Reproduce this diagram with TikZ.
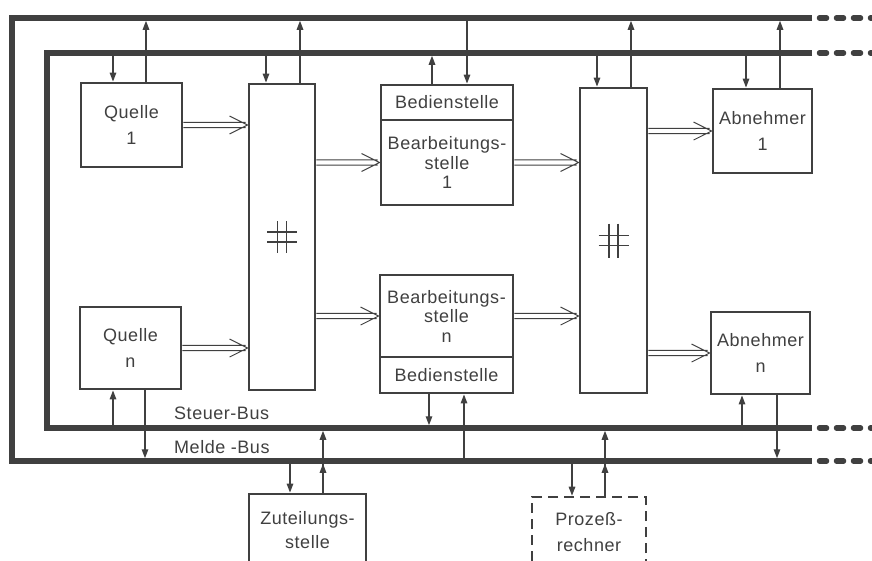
\documentclass[tikz,border=0pt]{standalone}
\usepackage{fontspec}
\setmainfont{Liberation Sans}[LetterSpace=3]
\usetikzlibrary{arrows.meta,calc}
\definecolor{ink}{gray}{0.25}
\begin{document}
\begin{tikzpicture}[x=1pt,y=-1pt,
  box/.style={draw=ink, line width=2.8pt, inner sep=0pt, align=center, text=ink,
     font=\fontsize{18}{19.5}\selectfont},
  dbox/.style={box, dash pattern=on 10pt off 6pt, line width=2.6pt},
  bus/.style={draw=ink, line width=5.5pt},
  busdash/.style={draw=ink, line width=5.5pt, line cap=round, dash pattern=on 7pt off 10pt},
  sig/.style={draw=ink, line width=1.4pt, -{Triangle[length=9pt,width=6.5pt]}},
  dbl/.style={draw=ink, line width=1pt, to path={
     ($(\tikztostart)+(0,2.7)$) -- ($(\tikztotarget)+(-2,2.7)$)
     ($(\tikztostart)+(0,-2.7)$) -- ($(\tikztotarget)+(-2,-2.7)$)
     ($(\tikztotarget)+(-18,9)$) -- (\tikztotarget) -- ($(\tikztotarget)+(-18,-9)$)}},
  lbl/.style={text=ink, font=\fontsize{18}{19.5}\selectfont, inner sep=0pt, anchor=base west},
  hash/.style={draw=ink, line width=1.7pt}
]
\useasboundingbox (0,0) rectangle (872,560);
\clip (0,0) rectangle (872,560);

% bus reference coordinates
\coordinate (busMT) at (0,18);
\coordinate (busST) at (0,53);
\coordinate (busSB) at (0,428);
\coordinate (busMB) at (0,461);
\coordinate (mtl) at (12,18);   \coordinate (mtr) at (812,18);  \coordinate (mte) at (874,18);
\coordinate (mbl) at (12,461);  \coordinate (mbr) at (812,461); \coordinate (mbe) at (874,461);
\coordinate (stl) at (47,53);   \coordinate (str) at (812,53);  \coordinate (ste) at (874,53);
\coordinate (sbl) at (47,428);  \coordinate (sbr) at (812,428); \coordinate (sbe) at (874,428);
\coordinate (mtd) at (819.5,18); \coordinate (mbd) at (819.5,461);
\coordinate (std) at (819.5,53); \coordinate (sbd) at (819.5,428);

% boxes
\node[box, minimum width=101pt, minimum height=84pt] (q1) at (131.5,125) {Quelle\\[6pt]1};
\node[box, minimum width=101pt, minimum height=82pt] (qn) at (130.5,348) {Quelle\\[6pt]n};
\node[box, minimum width=66pt, minimum height=306pt] (sw1) at (282,237) {};
\node[box, minimum width=132pt, minimum height=35pt] (bed1) at (447,102.5) {Bedienstelle};
\node[box, minimum width=132pt, minimum height=85pt] (bea1) at (447,162.5) {Bearbeitungs-\\stelle\\1};
\node[box, minimum width=133pt, minimum height=82pt] (bean) at (446.5,316) {Bearbeitungs-\\stelle\\n};
\node[box, minimum width=133pt, minimum height=36pt] (bedn) at (446.5,375) {Bedienstelle};
\node[box, minimum width=67pt, minimum height=305pt] (sw2) at (613.5,240.5) {};
\node[box, minimum width=99pt, minimum height=84pt] (ab1) at (762.5,131) {Abnehmer\\[7pt]1};
\node[box, minimum width=99pt, minimum height=82pt] (abn) at (760.5,353) {Abnehmer\\[7pt]n};
\node[box, minimum width=117pt, minimum height=72pt] (zut) at (307.5,530) {Zuteilungs-\\[5pt]stelle};
\node[dbox, minimum width=114pt, minimum height=70pt] (proz) at (589,532) {Prozeß-\\[6pt]rechner};

% switching symbols
\draw[hash] ([xshift=-15pt,yshift=5pt]sw1.center) -- ([xshift=15pt,yshift=5pt]sw1.center)
            ([xshift=-15pt,yshift=-5pt]sw1.center) -- ([xshift=15pt,yshift=-5pt]sw1.center)
            ([xshift=-4.5pt,yshift=16pt]sw1.center) -- ([xshift=-4.5pt,yshift=-16pt]sw1.center)
            ([xshift=4.5pt,yshift=16pt]sw1.center) -- ([xshift=4.5pt,yshift=-16pt]sw1.center);
\draw[hash] ([xshift=-15pt,yshift=5pt]sw2.center) -- ([xshift=15pt,yshift=5pt]sw2.center)
            ([xshift=-15pt,yshift=-5pt]sw2.center) -- ([xshift=15pt,yshift=-5pt]sw2.center)
            ([xshift=-4.5pt,yshift=17pt]sw2.center) -- ([xshift=-4.5pt,yshift=-17pt]sw2.center)
            ([xshift=4.5pt,yshift=17pt]sw2.center) -- ([xshift=4.5pt,yshift=-17pt]sw2.center);

% data flow (double arrows)
\draw[dbl] (q1.east) to (sw1.west |- q1.east);
\draw[dbl] (qn.east) to (sw1.west |- qn.east);
\draw[dbl] (sw1.east |- bea1.west) to (bea1.west);
\draw[dbl] (sw1.east |- bean.west) to (bean.west);
\draw[dbl] (bea1.east) to (sw2.west |- bea1.east);
\draw[dbl] (bean.east) to (sw2.west |- bean.east);
\draw[dbl] (sw2.east |- ab1.west) to (ab1.west);
\draw[dbl] (sw2.east |- abn.west) to (abn.west);

% bus connections, top
\draw[sig] (busST -| 113,0) -- (q1.north -| 113,0);
\draw[sig, shorten >=2.75pt] (q1.north -| 146,0) -- (busMT -| 146,0);
\draw[sig] (busST -| 266,0) -- (sw1.north -| 266,0);
\draw[sig, shorten >=2.75pt] (sw1.north -| 300,0) -- (busMT -| 300,0);
\draw[sig, shorten >=2.75pt] (bed1.north -| 432,0) -- (busST -| 432,0);
\draw[sig] (busMT -| 467,0) -- (bed1.north -| 467,0);
\draw[sig] (busST -| 597,0) -- (sw2.north -| 597,0);
\draw[sig, shorten >=2.75pt] (sw2.north -| 631,0) -- (busMT -| 631,0);
\draw[sig] (busST -| 746,0) -- (ab1.north -| 746,0);
\draw[sig, shorten >=2.75pt] (ab1.north -| 780,0) -- (busMT -| 780,0);

% bus connections, bottom
\draw[sig] (busSB -| 113,0) -- (qn.south -| 113,0);
\draw[sig, shorten >=2.75pt] (qn.south -| 145,0) -- (busMB -| 145,0);
\draw[sig, shorten >=2.75pt] (bedn.south -| 429,0) -- (busSB -| 429,0);
\draw[sig] (busMB -| 464,0) -- (bedn.south -| 464,0);
\draw[sig] (busSB -| 742,0) -- (abn.south -| 742,0);
\draw[sig, shorten >=2.75pt] (abn.south -| 777,0) -- (busMB -| 777,0);
\draw[sig] (busMB -| 290,0) -- (zut.north -| 290,0);
\draw[sig, shorten >=2.75pt] (zut.north -| 323,0) -- (busMB -| 323,0);
\draw[sig, shorten >=2.75pt] (zut.north -| 323,0) -- (busSB -| 323,0);
\draw[sig] (busMB -| 572,0) -- (proz.north -| 572,0);
\draw[sig, shorten >=2.75pt] (proz.north -| 605,0) -- (busMB -| 605,0);
\draw[sig, shorten >=2.75pt] (proz.north -| 605,0) -- (busSB -| 605,0);

% buses
\draw[bus] (mtr) -- (mtl) -- (mbl) -- (mbr);
\draw[bus] (str) -- (stl) -- (sbl) -- (sbr);
\draw[busdash] (mtd) -- (mte);
\draw[busdash] (mbd) -- (mbe);
\draw[busdash] (std) -- (ste);
\draw[busdash] (sbd) -- (sbe);

% bus labels
\node[lbl] (lst) at (174,419) {Steuer-Bus};
\node[lbl] (lmd) at (174,453) {Melde -Bus};
\end{tikzpicture}
\end{document}
